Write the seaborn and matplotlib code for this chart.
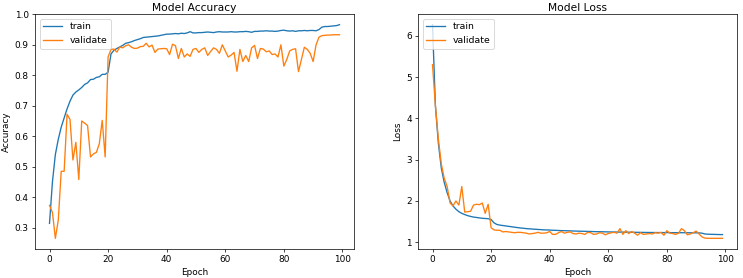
import numpy as np
import pandas as pd
import matplotlib
matplotlib.use("Agg")
import matplotlib.pyplot as plt
import seaborn as sns

epochs = list(range(100))

train_acc = [0.314, 0.45, 0.54, 0.59, 0.63, 0.66, 0.69, 0.715, 0.735, 0.745,
             0.752, 0.76, 0.77, 0.775, 0.786, 0.787, 0.793, 0.795, 0.803, 0.803,
             0.81, 0.87, 0.882, 0.888, 0.893, 0.898, 0.905, 0.907, 0.91, 0.914,
             0.917, 0.92, 0.924, 0.925, 0.926, 0.927, 0.928, 0.929, 0.931, 0.933,
             0.935, 0.935, 0.936, 0.937, 0.936, 0.938, 0.937, 0.939, 0.943, 0.939,
             0.939, 0.940, 0.940, 0.941, 0.942, 0.941, 0.940, 0.942, 0.943, 0.942,
             0.942, 0.942, 0.943, 0.942, 0.942, 0.943, 0.943, 0.944, 0.943, 0.941,
             0.944, 0.944, 0.945, 0.945, 0.946, 0.945, 0.945, 0.944, 0.945, 0.947,
             0.948, 0.946, 0.945, 0.946, 0.944, 0.946, 0.946, 0.947, 0.946, 0.947,
             0.947, 0.946, 0.950, 0.958, 0.960, 0.960, 0.961, 0.962, 0.963, 0.966]

val_acc = [0.373, 0.35, 0.265, 0.325, 0.485, 0.485, 0.672, 0.655, 0.522, 0.58,
           0.458, 0.65, 0.643, 0.635, 0.532, 0.542, 0.547, 0.575, 0.652, 0.532,
           0.86, 0.885, 0.886, 0.876, 0.893, 0.890, 0.897, 0.900, 0.892, 0.888,
           0.889, 0.894, 0.895, 0.905, 0.893, 0.899, 0.875, 0.886, 0.887, 0.888,
           0.887, 0.868, 0.902, 0.897, 0.855, 0.888, 0.860, 0.870, 0.862, 0.885,
           0.888, 0.875, 0.885, 0.890, 0.865, 0.878, 0.890, 0.885, 0.872, 0.900,
           0.880, 0.860, 0.866, 0.875, 0.813, 0.885, 0.845, 0.865, 0.845, 0.890,
           0.898, 0.855, 0.888, 0.886, 0.877, 0.880, 0.868, 0.870, 0.860, 0.900,
           0.830, 0.852, 0.880, 0.885, 0.887, 0.812, 0.852, 0.892, 0.885, 0.872,
           0.845, 0.900, 0.925, 0.930, 0.931, 0.932, 0.932, 0.933, 0.933, 0.933]

train_loss = [6.27, 4.3, 3.4, 2.8, 2.45, 2.2, 2.0, 1.88, 1.8, 1.74,
              1.70, 1.67, 1.645, 1.625, 1.61, 1.60, 1.59, 1.58, 1.575, 1.57,
              1.55, 1.47, 1.43, 1.415, 1.405, 1.395, 1.385, 1.375, 1.365, 1.355,
              1.345, 1.34, 1.33, 1.325, 1.32, 1.315, 1.31, 1.305, 1.30, 1.298,
              1.295, 1.29, 1.288, 1.285, 1.282, 1.28, 1.278, 1.275, 1.272, 1.27,
              1.268, 1.266, 1.264, 1.262, 1.26, 1.258, 1.256, 1.255, 1.254, 1.252,
              1.25, 1.249, 1.248, 1.247, 1.246, 1.245, 1.244, 1.243, 1.242, 1.241,
              1.24, 1.239, 1.238, 1.237, 1.236, 1.236, 1.235, 1.235, 1.234, 1.234,
              1.233, 1.233, 1.232, 1.232, 1.231, 1.231, 1.230, 1.230, 1.229, 1.229,
              1.228, 1.226, 1.220, 1.200, 1.195, 1.192, 1.190, 1.188, 1.186, 1.185]

val_loss = [5.3, 4.3, 3.5, 2.9, 2.55, 2.35, 1.95, 1.88, 2.0, 1.9,
            2.35, 1.73, 1.74, 1.75, 1.9, 1.92, 1.91, 1.95, 1.70, 1.92,
            1.35, 1.30, 1.29, 1.29, 1.25, 1.26, 1.25, 1.24, 1.23, 1.24,
            1.24, 1.23, 1.22, 1.20, 1.21, 1.22, 1.24, 1.22, 1.22, 1.23,
            1.26, 1.19, 1.19, 1.23, 1.26, 1.22, 1.24, 1.25, 1.21, 1.20,
            1.22, 1.21, 1.19, 1.24, 1.23, 1.19, 1.20, 1.23, 1.22, 1.18,
            1.21, 1.23, 1.24, 1.22, 1.33, 1.19, 1.28, 1.21, 1.26, 1.22,
            1.17, 1.23, 1.19, 1.20, 1.21, 1.20, 1.23, 1.22, 1.24, 1.17,
            1.28, 1.22, 1.21, 1.19, 1.22, 1.33, 1.28, 1.18, 1.20, 1.23,
            1.27, 1.20, 1.13, 1.10, 1.095, 1.095, 1.095, 1.095, 1.095, 1.095]

series_labels = ["train", "validate"]
titles = ["Model Accuracy", "Model Loss"]
ylabels = ["Accuracy", "Loss"]
xlabel = "Epoch"
colors = ["#1f77b4", "#ff7f0e"]

DPI = 64
fig = plt.figure(figsize=(743 / DPI, 278 / DPI), dpi=DPI)
ax1 = fig.add_axes([35 / 743, 1 - 249 / 278, (354 - 35) / 743, (249 - 14) / 278])
ax2 = fig.add_axes([418 / 743, 1 - 249 / 278, (737 - 418) / 743, (249 - 14) / 278])

for ax, tr, va, title, yl in [(ax1, train_acc, val_acc, titles[0], ylabels[0]),
                              (ax2, train_loss, val_loss, titles[1], ylabels[1])]:
    sns.lineplot(x=epochs, y=tr, ax=ax, color=colors[0], label=series_labels[0], linewidth=1.5)
    sns.lineplot(x=epochs, y=va, ax=ax, color=colors[1], label=series_labels[1], linewidth=1.5)
    ax.set_title(title, fontsize=12, pad=3)
    ax.set_xlabel(xlabel, fontsize=10)
    ax.set_ylabel(yl, fontsize=10)
    ax.tick_params(labelsize=10)
    ax.legend(loc="upper left", fontsize=10.5)

ax2.set_yticks([1, 2, 3, 4, 5, 6])

fig.savefig("out.png", dpi=DPI)
